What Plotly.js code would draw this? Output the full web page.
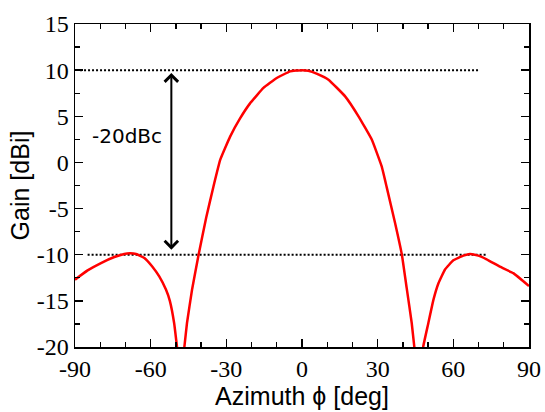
<!DOCTYPE html>
<html>
<head>
<meta charset="utf-8">
<script src="https://cdn.plot.ly/plotly-3.0.1.min.js"></script>
<style>
  html, body { margin: 0; padding: 0; background: #fff; }
  #chart { width: 545px; height: 412px; }
</style>
</head>
<body>
<div id="chart"></div>
<script>
// Azimuth cut of the antenna gain pattern
const azimuthDeg = [-90, -85.0, -79.7, -74.4, -70.5, -68.2, -65.8, -62.5, -59.3, -56.6,
  -53.9, -52.4, -50.7, -49.6, -48.1, -46.6, -45.6, -43.6, -41.0, -38.0,
  -35.1, -32.4, -28.5, -24.5, -20.6, -15.3, -10.0, -4.7, 0, 2.5,
  6.0, 10.5, 17.1, 22.4, 27.7, 31.6, 33.6, 36.9, 39.6, 41.5,
  43.5, 44.5, 46.3, 48.1, 50.1, 52.1, 54.1, 56.7, 60.0, 64.0,
  66.6, 69.9, 73.2, 78.5, 83.8, 90];
const gainDbi = [-12.7, -11.7, -10.9, -10.25, -9.92, -9.85, -9.92, -10.35, -11.3, -12.35,
  -13.8, -15.0, -17.4, -19.9, -23.5, -19.9, -17.4, -13.8, -10.0, -6.0,
  -2.6, 0.3, 2.8, 4.8, 6.4, 8.07, 9.15, 9.87, 10.0, 9.94,
  9.6, 8.97, 7.16, 5.0, 2.46, -0.43, -2.7, -6.56, -10.0, -13.6,
  -17.4, -19.9, -23.5, -19.9, -17.4, -14.9, -13.1, -11.6, -10.6, -10.1,
  -9.92, -10.1, -10.5, -11.3, -12.0, -13.4];

// Reference levels: main-lobe peak and side-lobe level
const peakLineX = [-88, 70];
const peakLineY = [10, 10];
const sideLineX = [-85, 73];
const sideLineY = [-10, -10];

// Level-difference marker
const markerX = -51.8;
const markerTop = 9.85;
const markerBottom = -9.45;
const markerText = '-20dBc';
const markerTextX = -69.5;
const markerTextY = 2.9;

// Axis ticks
const xTickVals = [-90, -60, -30, 0, 30, 60, 90];
const xTickText = ['-90', '-60', '-30', '0', '30', '60', '90'];
const yTickVals = [-20, -15, -10, -5, 0, 5, 10, 15];
const yTickText = ['-20', '-15', '-10', '-5', '0', '5', '10', '15'];

const dotted = { color: '#000', width: 2, dash: '2px,2px' };

const traces = [
  { x: peakLineX, y: peakLineY, mode: 'lines', line: dotted, hoverinfo: 'skip' },
  { x: sideLineX, y: sideLineY, mode: 'lines', line: dotted, hoverinfo: 'skip' },
  { x: azimuthDeg, y: gainDbi, mode: 'lines',
    line: { color: '#ff0000', width: 2.5, shape: 'spline', smoothing: 0.3 } }
];

const axisCommon = {
  showgrid: false,
  zeroline: false,
  showline: true,
  linecolor: '#000',
  linewidth: 1.5,
  mirror: 'allticks',
  ticks: 'inside',
  ticklen: 8,
  tickwidth: 1.3,
  tickcolor: '#000',
  tickmode: 'array'
};

const layout = {
  width: 545,
  height: 412,
  margin: { l: 75, r: 16, t: 24, b: 65, pad: 0 },
  paper_bgcolor: '#fff',
  plot_bgcolor: '#fff',
  showlegend: false,
  xaxis: Object.assign({}, axisCommon, {
    range: [-90, 90],
    tickvals: xTickVals,
    ticktext: xTickText,
    tickfont: { family: 'Liberation Serif', size: 24, color: '#000' },
    minor: { tickmode: 'linear', tick0: -90, dtick: 10, ticks: 'inside', ticklen: 5, tickwidth: 1.3, tickcolor: '#000' },
    title: { text: 'Azimuth ϕ [deg]', font: { family: 'Liberation Sans', size: 25, color: '#000' }, standoff: 4 }
  }),
  yaxis: Object.assign({}, axisCommon, {
    range: [-20, 15],
    tickvals: yTickVals,
    ticktext: yTickText,
    tickfont: { family: 'Liberation Serif', size: 24, color: '#000' },
    minor: { tickmode: 'linear', tick0: -20, dtick: 2.5, ticks: 'inside', ticklen: 5, tickwidth: 1.3, tickcolor: '#000' },
    title: { text: 'Gain [dBi]', font: { family: 'Liberation Sans', size: 25, color: '#000' }, standoff: 0 }
  }),
  annotations: [
    {
      x: markerX, y: markerBottom, ax: markerX, ay: markerTop,
      xref: 'x', yref: 'y', axref: 'x', ayref: 'y',
      showarrow: true, arrowside: 'end+start', arrowhead: 4, startarrowhead: 4,
      arrowsize: 1.3, startarrowsize: 1.3, arrowwidth: 2, arrowcolor: '#000', text: ''
    },
    {
      x: markerTextX, y: markerTextY, xref: 'x', yref: 'y', showarrow: false,
      text: markerText,
      font: { family: 'DejaVu Sans', size: 20, color: '#000' }
    }
  ]
};

Plotly.newPlot('chart', traces, layout, { staticPlot: true, displayModeBar: false });
</script>
</body>
</html>
